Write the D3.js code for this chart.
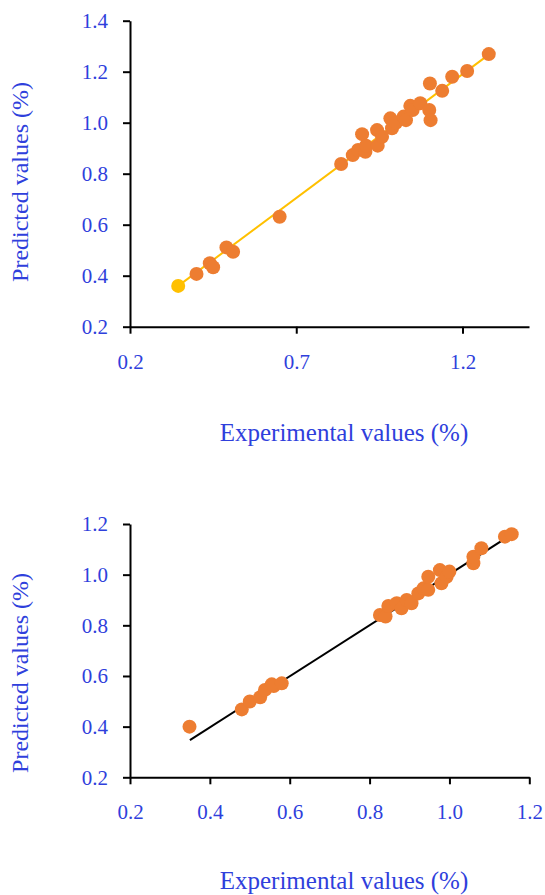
<!DOCTYPE html>
<html>
<head>
<meta charset="utf-8">
<script src="https://cdn.jsdelivr.net/npm/d3@7/dist/d3.min.js"></script>
<style>
  html, body { margin: 0; padding: 0; background: #ffffff; }
  svg { display: block; }
  .tick text { font-family: "Liberation Serif", "Times New Roman", serif; }
</style>
</head>
<body>
<svg id="chart" width="545" height="895"></svg>
<script>
// ---- Panel 1: training set ----
const topExperimental = [0.40, 0.44, 0.45, 0.49, 0.51, 0.65, 0.835, 0.87, 0.886, 0.898, 0.908, 0.91, 0.943, 0.945, 0.958, 0.983, 0.988, 1.00, 1.023, 1.03, 1.043, 1.05, 1.073, 1.102, 1.10, 1.104, 1.139, 1.169, 1.214, 1.279];
const topPredicted    = [0.407, 0.449, 0.433, 0.511, 0.494, 0.631, 0.838, 0.873, 0.893, 0.955, 0.886, 0.91, 0.971, 0.91, 0.945, 1.017, 0.978, 1.00, 1.024, 1.01, 1.066, 1.05, 1.076, 1.154, 1.05, 1.01, 1.125, 1.18, 1.203, 1.269];
const topMarkedX = [0.345];
const topMarkedY = [0.36];
const topFitX = [0.345, 1.28];
const topFitY = [0.36, 1.268];
const topXTicks = [0.2, 0.7, 1.2];
const topYTicks = [0.2, 0.4, 0.6, 0.8, 1.0, 1.2, 1.4];

// ---- Panel 2: test set ----
const bottomExperimental = [0.349, 0.48, 0.50, 0.526, 0.538, 0.555, 0.56, 0.58, 0.826, 0.84, 0.847, 0.868, 0.88, 0.893, 0.905, 0.922, 0.935, 0.947, 0.947, 0.976, 0.98, 0.993, 1.00, 1.06, 1.06, 1.08, 1.139, 1.156];
const bottomPredicted    = [0.40, 0.468, 0.499, 0.516, 0.545, 0.567, 0.56, 0.571, 0.841, 0.835, 0.876, 0.887, 0.867, 0.90, 0.887, 0.926, 0.946, 0.94, 0.992, 1.018, 0.966, 0.992, 1.012, 1.045, 1.071, 1.104, 1.15, 1.16];
const bottomFitX = [0.35, 1.16];
const bottomFitY = [0.347, 1.163];
const bottomXTicks = [0.2, 0.4, 0.6, 0.8, 1.0, 1.2];
const bottomYTicks = [0.2, 0.4, 0.6, 0.8, 1.0, 1.2];

const xTitle = "Experimental values (%)";
const yTitle = "Predicted values (%)";

const TEXT_BLUE = "#2f3fdc";
const DOT_ORANGE = "#ED7D31";
const GOLD = "#FFC000";
const fmt = d3.format(".1f");

const svg = d3.select("#chart");

function drawPanel(opt) {
  const g = svg.append("g");
  const x = d3.scaleLinear().domain(opt.xDomain).range(opt.xRange);
  const y = d3.scaleLinear().domain(opt.yDomain).range(opt.yRange);

  // fitted line
  const fit = opt.fitX.map((v, i) => [v, opt.fitY[i]]);
  g.append("path")
    .datum(fit)
    .attr("fill", "none")
    .attr("stroke", opt.lineColor)
    .attr("stroke-width", 2)
    .attr("d", d3.line().x(d => x(d[0])).y(d => y(d[1])));

  // observations
  const pts = opt.px.map((v, i) => [v, opt.py[i]]);
  g.append("g").selectAll("circle")
    .data(pts)
    .join("circle")
    .attr("cx", d => x(d[0]))
    .attr("cy", d => y(d[1]))
    .attr("r", 7)
    .attr("fill", DOT_ORANGE);

  if (opt.markX) {
    const mk = opt.markX.map((v, i) => [v, opt.markY[i]]);
    g.append("g").selectAll("circle")
      .data(mk)
      .join("circle")
      .attr("cx", d => x(d[0]))
      .attr("cy", d => y(d[1]))
      .attr("r", 7)
      .attr("fill", GOLD);
  }

  // axes
  const xAxis = g.append("g")
    .attr("transform", `translate(0,${opt.yRange[0]})`)
    .call(d3.axisBottom(x).tickValues(opt.xTicks).tickFormat(fmt).tickSize(7).tickPadding(20).tickSizeOuter(0));
  const yAxis = g.append("g")
    .attr("transform", `translate(${opt.xRange[0]},0)`)
    .call(d3.axisLeft(y).tickValues(opt.yTicks).tickFormat(fmt).tickSize(7).tickPadding(15).tickSizeOuter(0));

  [xAxis, yAxis].forEach(a => {
    a.select(".domain").attr("stroke", "#000").attr("stroke-width", 2);
    a.selectAll(".tick line").attr("stroke", "#000").attr("stroke-width", 2);
    a.selectAll(".tick text").attr("fill", TEXT_BLUE).attr("font-size", 21);
  });

  // axis titles
  g.append("text")
    .attr("x", opt.xTitlePos[0])
    .attr("y", opt.xTitlePos[1])
    .attr("text-anchor", "middle")
    .attr("font-family", "'Liberation Serif', 'Times New Roman', serif")
    .attr("font-size", 25)
    .attr("fill", TEXT_BLUE)
    .text(xTitle);

  g.append("text")
    .attr("transform", `translate(${opt.yTitlePos[0]},${opt.yTitlePos[1]}) rotate(-90)`)
    .attr("text-anchor", "middle")
    .attr("font-family", "'Liberation Serif', 'Times New Roman', serif")
    .attr("font-size", 24)
    .attr("fill", TEXT_BLUE)
    .text(yTitle);
}

drawPanel({
  xDomain: [0.2, 1.4], xRange: [130, 529],
  yDomain: [0.2, 1.4], yRange: [326.7, 20.7],
  xTicks: topXTicks, yTicks: topYTicks,
  px: topExperimental, py: topPredicted,
  markX: topMarkedX, markY: topMarkedY,
  fitX: topFitX, fitY: topFitY, lineColor: GOLD,
  xTitlePos: [344, 441], yTitlePos: [28, 182]
});

drawPanel({
  xDomain: [0.2, 1.2], xRange: [130, 529.3],
  yDomain: [0.2, 1.2], yRange: [777.3, 524],
  xTicks: bottomXTicks, yTicks: bottomYTicks,
  px: bottomExperimental, py: bottomPredicted,
  fitX: bottomFitX, fitY: bottomFitY, lineColor: "#000000",
  xTitlePos: [344, 889], yTitlePos: [28, 673]
});
</script>
</body>
</html>
